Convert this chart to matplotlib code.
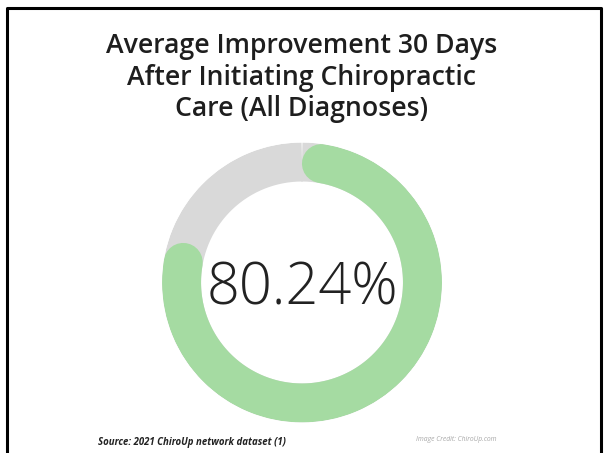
import numpy as np
import matplotlib.pyplot as plt

# improvement share (percent) and remainder
improvement_pct = 80.24
remaining_pct = 100 - improvement_pct

title_lines = ["Average Improvement 30 Days",
               "After Initiating Chiropractic",
               "Care (All Diagnoses)"]
source_text = "Source: 2021 ChiroUp network dataset (1)"
credit_text = "Image Credit: ChiroUp.com"

GREEN = "#a5dba2"
GREY = "#d9d9d9"

fig = plt.figure(figsize=(6.05, 4.53), dpi=100)
fig.patch.set_facecolor("white")

# frame, open at the bottom
fig.add_artist(plt.Line2D([0.012, 0.012, 0.994, 0.994], [0.0, 0.982, 0.982, 0.0],
                          transform=fig.transFigure, color="black", lw=2.2))

# title, one text per line on fixed baselines
baselines = [0.883, 0.812, 0.744]
for line, yb in zip(title_lines, baselines):
    fig.text(0.4985, yb, line, ha="center", va="baseline",
             fontsize=19.2, fontweight="semibold", family="Open Sans", color="#1e1e1e")

# ring in polar axes: 12 o'clock start, clockwise
ax = fig.add_axes([0.4992 - 0.2314, 0.3764 - 0.309, 0.4628, 0.618], projection="polar")
ax.set_theta_zero_location("N")
ax.set_theta_direction(-1)
ax.set_ylim(0, 140)
ax.axis("off")

ring_px = 39
r_mid = 140 - ring_px / 2
lw_pt = ring_px * 72 / 100
full = np.linspace(0, 2 * np.pi, 400)
ax.plot(full, np.full_like(full, r_mid), color=GREY, lw=lw_pt, solid_capstyle="butt")

# remainder stays grey; the green arc covers the improvement share
cap = (ring_px / 2) / r_mid
end = improvement_pct / 100 * 2 * np.pi
arc = np.linspace(cap, end - cap, 400)
ax.plot(arc, np.full_like(arc, r_mid), color=GREEN, lw=lw_pt, solid_capstyle="round")

ax.text(np.pi, 6.5, f"{improvement_pct:.2f}%", ha="center", va="center",
        fontsize=41.5, fontweight="light", family="Open Sans", color="#222222")

# footer
fig.text(0.162, 0.024, source_text, ha="left", va="center", fontsize=6.9,
         fontweight="bold", style="italic", family="Open Sans", color="#222222")
fig.text(0.688, 0.029, credit_text, ha="left", va="center", fontsize=4.9,
         style="italic", family="Open Sans", color="#a8a8a8")

fig.savefig("out.png", dpi=100, facecolor="white")
